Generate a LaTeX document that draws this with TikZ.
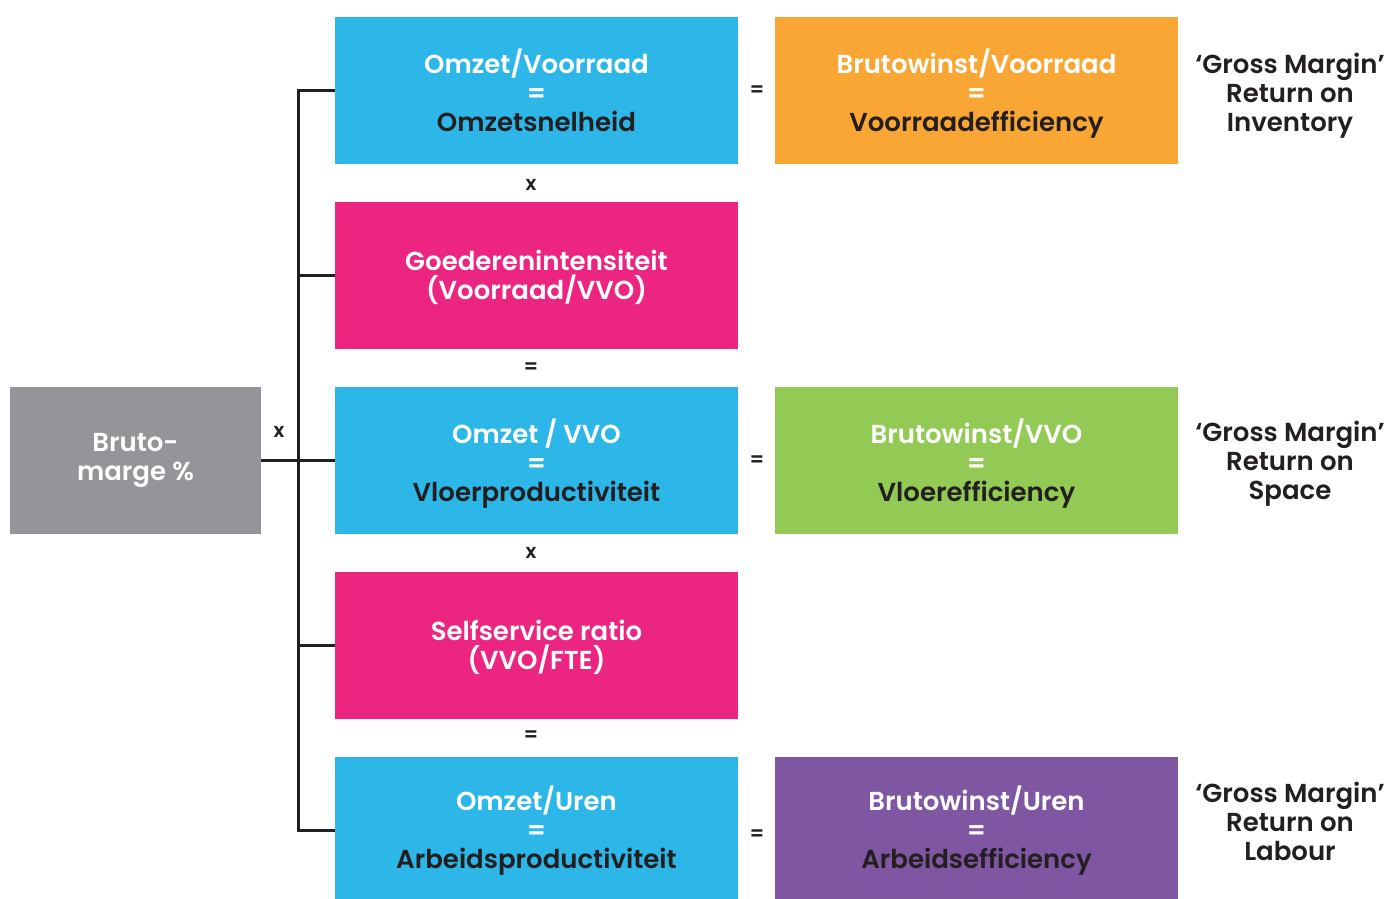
\documentclass[tikz,border=0pt]{standalone}
\usepackage{fontspec}
\setmainfont{Poppins}[BoldFont={* SemiBold}]
\definecolor{cblue}{HTML}{2DB7E8}
\definecolor{corange}{HTML}{F9A634}
\definecolor{cpink}{HTML}{EC2581}
\definecolor{cgreen}{HTML}{93C955}
\definecolor{cpurple}{HTML}{7F56A2}
\definecolor{cgray}{HTML}{939598}
\definecolor{cdark}{HTML}{231F20}
\newcommand{\ph}{\vphantom{Oy}}
\newcommand{\pa}{\rule{0pt}{25pt}}
\newcommand{\pb}{\rule{0pt}{31pt}}
\tikzset{
  box/.style={minimum width=403pt, minimum height=147pt, inner sep=0pt, align=center, text=white,
    font=\fontsize{26}{29}\selectfont\bfseries},
  graybox/.style={box, fill=cgray, minimum width=251pt},
  conn/.style={line width=3pt, draw=cdark},
  op/.style={font=\fontsize{20}{20}\selectfont\bfseries, text=cdark, inner sep=0pt},
  side/.style={align=center, text=cdark, font=\fontsize{26}{29}\selectfont\bfseries}
}
\begin{document}
\begin{tikzpicture}[x=1pt,y=-1pt]
\clip (0,0) rectangle (1389,899);
\fill[white] (0,0) rectangle (1389,899);
% left column boxes
\node[box, fill=cblue] (b1) at (536.5,90.5) {\pb Omzet/Voorraad\\=\\\textcolor{cdark}{\ph Omzetsnelheid}};
\node[box, fill=cpink] (b2) at (536.5,275.5) {\pa Goederenintensiteit\\\ph(Voorraad/VVO)};
\node[box, fill=cblue] (b3) at (536.5,460.5) {\pb Omzet / VVO\\=\\\textcolor{cdark}{\ph Vloerproductiviteit}};
\node[box, fill=cpink] (b4) at (536.5,645.5) {\pa Selfservice ratio\\\ph(VVO/FTE)};
\node[box, fill=cblue] (b5) at (536.5,830) {\pa Omzet/Uren\\=\\\textcolor{cdark}{\ph Arbeidsproductiviteit}};
% right column boxes
\node[box, fill=corange] (r1) at (976.5,90.5) {\pb Brutowinst/Voorraad\\=\\\textcolor{cdark}{\ph Voorraadefficiency}};
\node[box, fill=cgreen] (r3) at (976.5,460.5) {\pb Brutowinst/VVO\\=\\\textcolor{cdark}{\ph Vloerefficiency}};
\node[box, fill=cpurple] (r5) at (976.5,830) {\pa Brutowinst/Uren\\=\\\textcolor{cdark}{\ph Arbeidsefficiency}};
% gray box
\node[graybox] (bm) at (135.5,460.5) {\ph Bruto-\\\ph marge \%};
% side labels
\node[side] (s1) at (1290,96) {\ph‘Gross Margin’\\Return on\\\ph Inventory};
\node[side] (s3) at (1290,463.5) {\ph‘Gross Margin’\\Return on\\\ph Space};
\node[side] (s5) at (1290,825) {\ph‘Gross Margin’\\Return on\\\ph Labour};
% operators
\node[op] (o1) at (531,185) {x};
\node[op] (o2) at (531,368) {=};
\node[op] (o3) at (531,553) {x};
\node[op] (o4) at (531,736) {=};
\node[op] (e1) at (757,91) {=};
\node[op] (e3) at (757,461) {=};
\node[op] (e5) at (757,835) {=};
\node[op] (ox) at (279,432) {x};
% connectors
\coordinate (spine) at (298,460);
\draw[conn] (b1.west) -- (b1.west -| spine) -- (b5.west -| spine) -- (b5.west);
\draw[conn] (b2.west) -- (b2.west -| spine);
\draw[conn] (b4.west) -- (b4.west -| spine);
\draw[conn] (bm.east) -- (b3.west);
\end{tikzpicture}
\end{document}
